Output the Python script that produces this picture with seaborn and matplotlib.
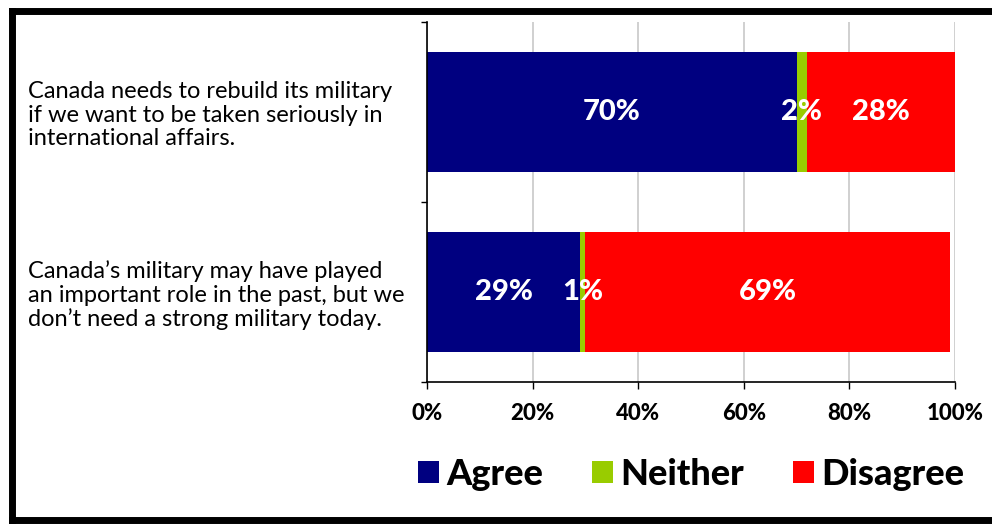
import matplotlib
matplotlib.use("Agg")
import matplotlib.pyplot as plt
from matplotlib.lines import Line2D
from matplotlib.patches import Patch
import pandas as pd
import seaborn as sns

statements = [
    "Canada needs to rebuild its military\nif we want to be taken seriously in\ninternational affairs.",
    "Canada\u2019s military may have played\nan important role in the past, but we\ndon\u2019t need a strong military today.",
]
agree = [70, 29]
neither = [2, 1]
disagree = [28, 69]
series = ["Agree", "Neither", "Disagree"]
colors = ["#000080", "#99cc00", "#ff0000"]
xticks = [0, 20, 40, 60, 80, 100]

sns.set_theme(style="white")
plt.rcParams["font.family"] = ["Lato", "DejaVu Sans"]
plt.rcParams["text.color"] = "black"
plt.rcParams["xtick.color"] = "black"
plt.rcParams["ytick.color"] = "black"

df = pd.DataFrame({"statement": statements, "Agree": agree,
                   "Neither": neither, "Disagree": disagree})
df["cum_neither"] = df["Agree"] + df["Neither"]
df["cum_disagree"] = df["cum_neither"] + df["Disagree"]

fig = plt.figure(figsize=(9.92, 5.25), dpi=100)
ax = fig.add_axes([0.4304, 0.2724, 0.5323, 0.6857])

# stacked bars drawn back to front
for col, c in [("cum_disagree", colors[2]), ("cum_neither", colors[1]),
               ("Agree", colors[0])]:
    sns.barplot(data=df, x=col, y="statement", color=c, width=0.67,
                orient="h", ax=ax, saturation=1, linewidth=0)

# segment labels
for i, row in df.iterrows():
    starts = [0, row["Agree"], row["cum_neither"]]
    for s, col in zip(starts, series):
        v = row[col]
        ax.text(s + v / 2, i, f"{v}%", ha="center", va="center",
                color="white", fontsize=21, fontweight="black")

ax.set_xlim(0, 100)
ax.set_ylim(1.5, -0.5)
ax.set_xlabel("")
ax.set_ylabel("")
ax.set_xticks(xticks)
ax.set_xticklabels([f"{t}%" for t in xticks], fontsize=16, fontweight="black")
ax.xaxis.grid(True, color="#c8c8c8", linewidth=1.2)
ax.set_axisbelow(True)

ax.set_yticks([0, 1])
ax.set_yticklabels(statements, fontsize=17, ha="left", linespacing=1.15)
ax.set_yticks([-0.5, 0.5, 1.5], minor=True)
ax.tick_params(axis="y", which="major", length=0, pad=287)
ax.tick_params(axis="y", which="minor", length=4, width=1, color="black",
               direction="out", left=True)
ax.tick_params(axis="x", length=5, width=1, color="black", direction="out",
               bottom=True, pad=10)

for side in ["top", "right"]:
    ax.spines[side].set_visible(False)
for side in ["left", "bottom"]:
    ax.spines[side].set_color("black")
    ax.spines[side].set_linewidth(1.2)

handles = [Patch(facecolor=c, edgecolor="none") for c in colors]
fig.legend(handles, series, loc="center", bbox_to_anchor=(0.697, 0.097),
           ncol=3, frameon=False, prop={"size": 26, "weight": "black"},
           handlelength=0.58, handleheight=0.58, handletextpad=0.2,
           columnspacing=1.36, borderpad=0, borderaxespad=0)

# black frame (top, left, bottom)
lw = 5
fig.add_artist(Line2D([0.0121, 1.0], [0.979, 0.979], color="black", lw=lw,
                      transform=fig.transFigure, solid_capstyle="projecting"))
fig.add_artist(Line2D([0.0121, 0.0121], [0.979, 0.0095], color="black", lw=lw,
                      transform=fig.transFigure, solid_capstyle="projecting"))
fig.add_artist(Line2D([0.0121, 1.0], [0.0095, 0.0095], color="black", lw=lw,
                      transform=fig.transFigure, solid_capstyle="projecting"))

fig.savefig("out.png", dpi=100)
